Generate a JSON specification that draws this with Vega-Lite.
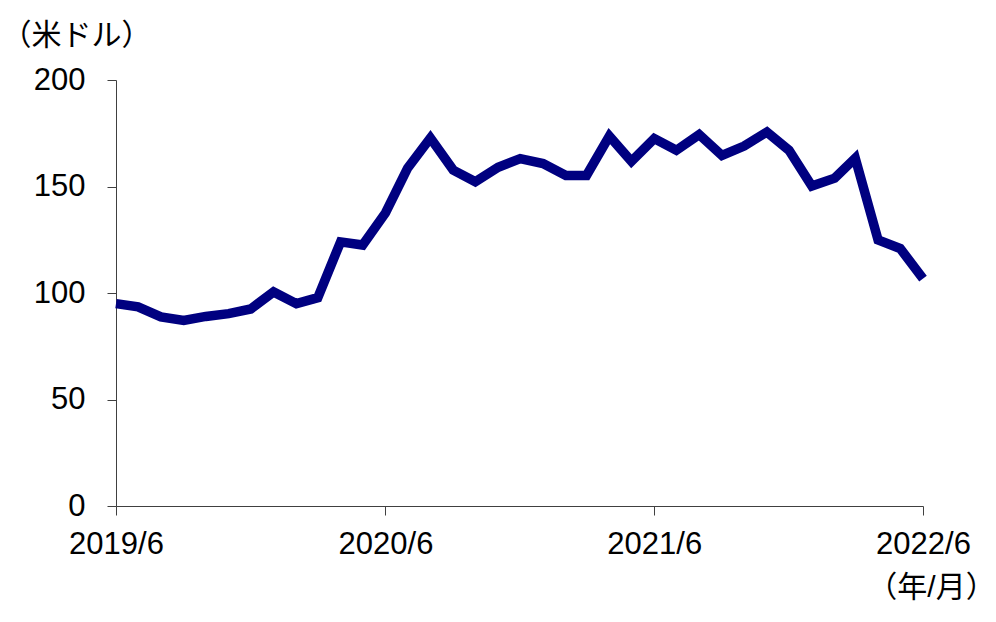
{
  "$schema": "https://vega.github.io/schema/vega-lite/v6.json",
  "width": 807,
  "height": 426,
  "autosize": {"type": "none"},
  "padding": {"left": 116, "top": 80, "right": 73, "bottom": 116},
  "background": "white",
  "config": {
    "view": {"stroke": null},
    "font": "Liberation Sans, Noto Sans CJK JP",
    "axis": {"grid": false, "labelFont": "Liberation Sans, Noto Sans CJK JP", "titleFont": "Liberation Sans, Noto Sans CJK JP"}
  },
  "data": {
    "values": [
      {"date": "2019-06-01", "value": 95.0},
      {"date": "2019-07-01", "value": 93.5},
      {"date": "2019-08-01", "value": 88.8},
      {"date": "2019-09-01", "value": 87.1},
      {"date": "2019-10-01", "value": 89.0},
      {"date": "2019-11-01", "value": 90.3},
      {"date": "2019-12-01", "value": 92.5},
      {"date": "2020-01-01", "value": 100.5},
      {"date": "2020-02-01", "value": 95.0},
      {"date": "2020-03-01", "value": 97.8},
      {"date": "2020-04-01", "value": 124.0},
      {"date": "2020-05-01", "value": 122.5},
      {"date": "2020-06-01", "value": 137.6},
      {"date": "2020-07-01", "value": 158.6},
      {"date": "2020-08-01", "value": 172.8},
      {"date": "2020-09-01", "value": 157.7},
      {"date": "2020-10-01", "value": 152.2},
      {"date": "2020-11-01", "value": 159.0},
      {"date": "2020-12-01", "value": 163.1},
      {"date": "2021-01-01", "value": 160.8},
      {"date": "2021-02-01", "value": 155.2},
      {"date": "2021-03-01", "value": 155.2},
      {"date": "2021-04-01", "value": 173.7},
      {"date": "2021-05-01", "value": 161.8},
      {"date": "2021-06-01", "value": 172.5},
      {"date": "2021-07-01", "value": 167.0},
      {"date": "2021-08-01", "value": 174.4},
      {"date": "2021-09-01", "value": 164.6},
      {"date": "2021-10-01", "value": 169.0},
      {"date": "2021-11-01", "value": 175.6},
      {"date": "2021-12-01", "value": 167.0},
      {"date": "2022-01-01", "value": 150.2},
      {"date": "2022-02-01", "value": 153.9},
      {"date": "2022-03-01", "value": 163.3},
      {"date": "2022-04-01", "value": 124.9},
      {"date": "2022-05-01", "value": 120.9},
      {"date": "2022-06-01", "value": 106.8}
    ]
  },
  "mark": {"type": "line", "color": "#000080", "strokeWidth": 9.5, "strokeCap": "butt", "strokeJoin": "miter", "clip": false},
  "encoding": {
    "x": {
      "field": "date",
      "type": "temporal",
      "scale": {"type": "utc", "domain": [{"year": 2019, "month": 6, "date": 1, "utc": true}, {"year": 2022, "month": 6, "date": 1, "utc": true}], "nice": false},
      "axis": {
        "values": [
          {"year": 2019, "month": 6, "date": 1, "utc": true},
          {"year": 2020, "month": 6, "date": 1, "utc": true},
          {"year": 2021, "month": 6, "date": 1, "utc": true},
          {"year": 2022, "month": 6, "date": 1, "utc": true}
        ],
        "labelExpr": "utcFormat(datum.value, '%Y/%-m')",
        "labelFontSize": 31,
        "labelColor": "#000000",
        "labelPadding": 14,
        "labelFlush": false,
        "labelOverlap": false,
        "labelAlign": "center",
        "tickSize": 9,
        "tickColor": "#404040",
        "domainColor": "#404040",
        "title": "（年/月）",
        "titleFontSize": 30,
        "titleFontWeight": "normal",
        "titleColor": "#000000",
        "titleAlign": "center",
        "titleBaseline": "middle",
        "titleAnchor": null,
        "titleX": 815,
        "titleY": 81
      }
    },
    "y": {
      "field": "value",
      "type": "quantitative",
      "scale": {"domain": [0, 200], "nice": false, "zero": true},
      "axis": {
        "values": [0, 50, 100, 150, 200],
        "labelFontSize": 31,
        "labelColor": "#000000",
        "labelPadding": 22,
        "tickSize": 9,
        "tickColor": "#404040",
        "domainColor": "#404040",
        "title": "（米ドル）",
        "titleFontSize": 30,
        "titleFontWeight": "normal",
        "titleColor": "#000000",
        "titleAngle": 0,
        "titleAlign": "left",
        "titleBaseline": "middle",
        "titleAnchor": null,
        "titleX": -115,
        "titleY": -45
      }
    }
  }
}
